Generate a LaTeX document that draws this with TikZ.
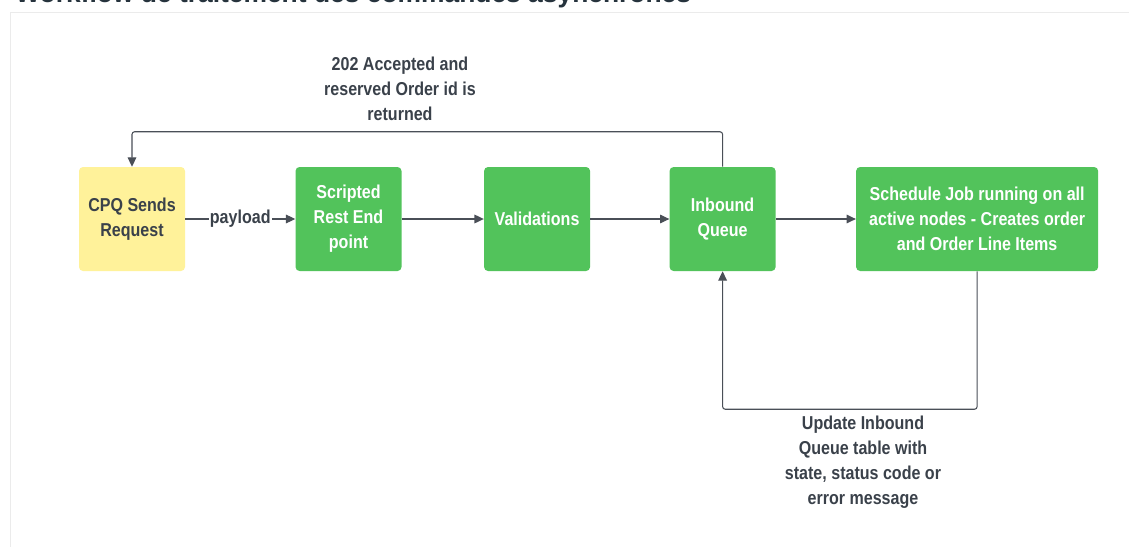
\documentclass[tikz,border=0pt]{standalone}
\usepackage{fontspec}
\newfontfamily\lucidfont{Liberation Sans}[FakeStretch=0.86]
\newfontfamily\titlefont{Liberation Sans}
\usetikzlibrary{positioning, arrows.meta}

\definecolor{boxgreen}{HTML}{52C35B}
\definecolor{boxyellow}{HTML}{FFF29A}
\definecolor{inkgray}{HTML}{3A414A}
\definecolor{linegray}{HTML}{4A4F57}
\definecolor{titleink}{HTML}{26333D}

\begin{document}
\begin{tikzpicture}[
    x=0.75pt, y=-0.75pt,
    node distance=60pt, % gap between the boxes
    box/.style={rectangle, rounded corners=3pt, minimum width=79.5pt, minimum height=78pt, fill=boxgreen, text=white, align=center, inner sep=2pt, font=\lucidfont\bfseries\fontsize{14}{18.75}\selectfont},
    request/.style={box, fill=boxyellow, text=inkgray},
    note/.style={align=center, text=inkgray, font=\lucidfont\bfseries\fontsize{14}{18.75}\selectfont},
    arrow/.style={-{Triangle[length=7pt, width=6.5pt]}, draw=linegray, line width=0.8pt}
]
\useasboundingbox (0,0) rectangle (1129,547);
\clip (0,0) rectangle (1129,547);

% title, cut by the top edge
\node[anchor=base west, inner sep=0pt, text=titleink, font=\titlefont\bfseries\fontsize{19.8}{24}\selectfont] (title) at (15,2) {Workflow de traitement des commandes asynchrones};
\draw[black!8] (10,547) -- (10,12) -- (1129,12);

\node[request] (cpq) at (132,219) {CPQ Sends\\Request};
\node[box, right=82.5pt of cpq] (rest) {Scripted\\Rest End\\point};
\node[box, right=61.5pt of rest] (valid) {Validations};
\node[box, right=59.25pt of valid] (queue) {Inbound\\Queue};
\node[box, right=of queue, minimum width=181.5pt] (sched) {Schedule Job running on all\\active nodes - Creates order\\and Order Line Items};

\draw[arrow] (cpq) -- node[fill=white, inner sep=1pt, note] (payload) {payload} (rest);
\draw[arrow] (rest) -- (valid);
\draw[arrow] (valid) -- (queue);
\draw[arrow] (queue) -- (sched);

% return paths
\draw[arrow, rounded corners=2pt] (queue.north) -- ++(0,-35) -| (cpq.north);
\node[note] (acklabel) at (400,89) {202 Accepted and\\reserved Order id is\\returned};

\draw[arrow, rounded corners=2pt] (sched.south) -- ++(0,138) -| (queue.south);
\node[note] (updlabel) at (863,462) {Update Inbound\\Queue table with\\state, status code or\\error message};

\end{tikzpicture}
\end{document}
